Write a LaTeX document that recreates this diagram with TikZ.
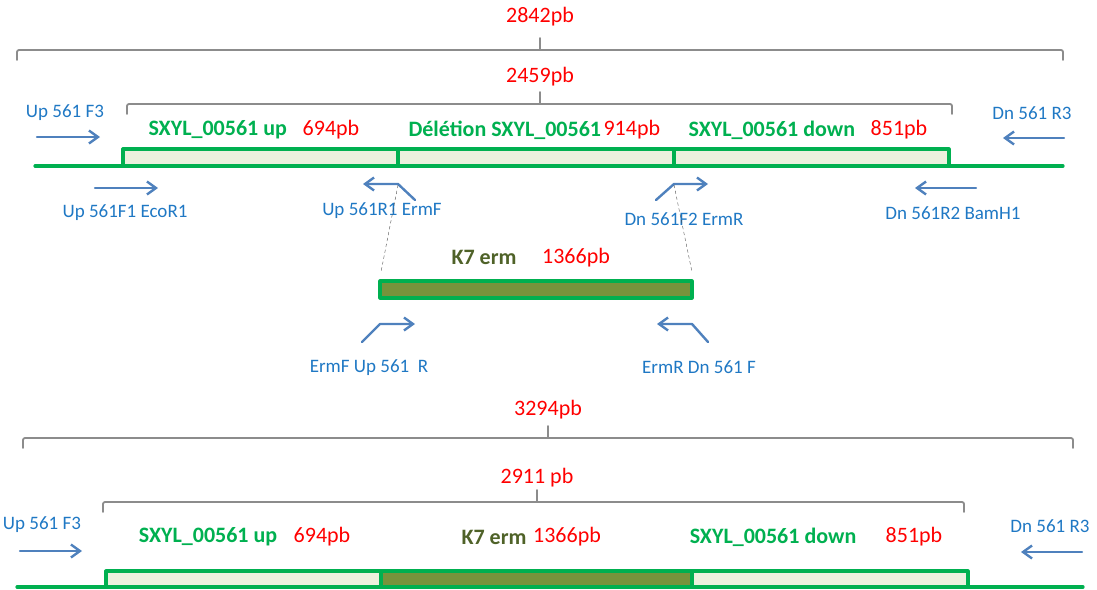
\documentclass[tikz,border=0pt]{standalone}
\usepackage{fontspec}
\setmainfont{Carlito}
\usetikzlibrary{arrows.meta}
\definecolor{fraggreen}{HTML}{00B050}
\definecolor{fraglight}{HTML}{EBF1DE}
\definecolor{ermolive}{HTML}{77933C}
\definecolor{ermtext}{HTML}{4F6228}
\definecolor{primerblue}{HTML}{4F81BD}
\definecolor{primertext}{HTML}{1F78C4}
\definecolor{bargrey}{HTML}{8C8C8C}
\begin{document}
\begin{tikzpicture}[x=1pt,y=-1pt,line join=round,line cap=round,
	primer/.style={draw=primerblue,line width=2.4pt,-{Straight Barb[length=9pt,width=13pt]}},
	sizebar/.style={draw=bargrey,line width=1.8pt,rounded corners=2pt},
	frag/.style={draw=fraggreen,line width=3.2pt,fill=fraglight},
	erm/.style={draw=fraggreen,line width=3.2pt,fill=ermolive},
	plab/.style={text=primertext,font=\fontsize{19}{21}\selectfont},
	glab/.style={text=fraggreen,font=\bfseries\fontsize{22}{24}\selectfont},
	klab/.style={text=ermtext,font=\bfseries\fontsize{22}{24}\selectfont},
	rlab/.style={text=red,font=\fontsize{22}{24}\selectfont}]
	\useasboundingbox (0,0) rectangle (1097,589);
	% size bars
	\foreach \l/\r/\y/\m in {17/1063/50/540,127/952/104/540,23/1073/438/548,103/964/502/537}
	\draw[sizebar] (\l,\y+10)--(\l,\y)--(\r,\y)--(\r,\y+10) (\m,\y)--(\m,\y-12);
	\node[rlab] (s2842) at (540,17) {2842pb};
	\node[rlab] (s2459) at (540,77) {2459pb};
	\node[rlab] (s3294) at (548,410) {3294pb};
	\node[rlab] (s2911) at (537,478) {2911 pb};
	% wild type locus
	\draw[fraggreen,line width=3.2pt] (35,166)--(1063,166);
	\draw[frag] (123,149) rectangle (398,166);
	\draw[frag] (398,149) rectangle (674,166);
	\draw[frag] (674,149) rectangle (949,166);
	\node[glab,anchor=west] (up1) at (145,130) {SXYL\_00561 up};
	\node[rlab] (up1s) at (331,130) {694pb};
	\node[glab,anchor=west] (del1) at (405,130) {Délétion SXYL\_00561};
	\node[rlab,anchor=west] (del1s) at (600,130) {914pb};
	\node[glab,anchor=west] (dn1) at (685,130) {SXYL\_00561 down};
	\node[rlab] (dn1s) at (899,130) {851pb};
	% primers
	\node[plab] (f3a) at (65,113) {Up 561 F3};
	\node[plab] (r3a) at (1032,113) {Dn 561 R3};
	\draw[primer] (37,137)--(100,137);
	\draw[primer] (1064,138)--(1003,138);
	\draw[primer] (95,188)--(158,188);
	\draw[primer] (976,188)--(915,188);
	\draw[primer] (415,200)--(398,184)--(363,184);
	\draw[primer] (656,200)--(674,184)--(708,184);
	\node[plab] (f1) at (125,213) {Up 561F1 EcoR1};
	\node[plab] (r1) at (382,211) {Up 561R1 ErmF};
	\node[plab] (f2) at (684,219) {Dn 561F2 ErmR};
	\node[plab] (r2) at (953,213) {Dn 561R2 BamH1};
	% cassette
	\draw[dashed,thin,black!70] (398,185)--(381,272) (674,185)--(692,272);
	\draw[erm] (380,281) rectangle (692,298);
	\node[klab] (k7) at (484,257) {K7 erm};
	\node[rlab] (k7s) at (576,258) {1366pb};
	\draw[primer] (362,342)--(380,324)--(415,324);
	\draw[primer] (708,342)--(692,324)--(657,324);
	\node[plab] (ermf) at (369,368) {ErmF Up 561~~R};
	\node[plab] (ermr) at (699,367) {ErmR Dn 561 F};
	% mutant locus
	\draw[fraggreen,line width=3.2pt] (17,587)--(1083,587);
	\draw[frag] (106,571) rectangle (381,587);
	\draw[erm] (381,571) rectangle (692,587);
	\draw[frag] (692,571) rectangle (968,587);
	\node[glab] (up2) at (208,537) {SXYL\_00561 up};
	\node[rlab] (up2s) at (322,537) {694pb};
	\node[klab] (k72) at (494,537) {K7 erm};
	\node[rlab] (k72s) at (567,537) {1366pb};
	\node[glab] (dn2) at (773,537) {SXYL\_00561 down};
	\node[rlab] (dn2s) at (914,537) {851pb};
	\node[plab] (f3b) at (42,525) {Up 561 F3};
	\node[plab] (r3b) at (1050,526) {Dn 561 R3};
	\draw[primer] (20,551)--(82,551);
	\draw[primer] (1082,552)--(1021,552);
\end{tikzpicture}
\end{document}
